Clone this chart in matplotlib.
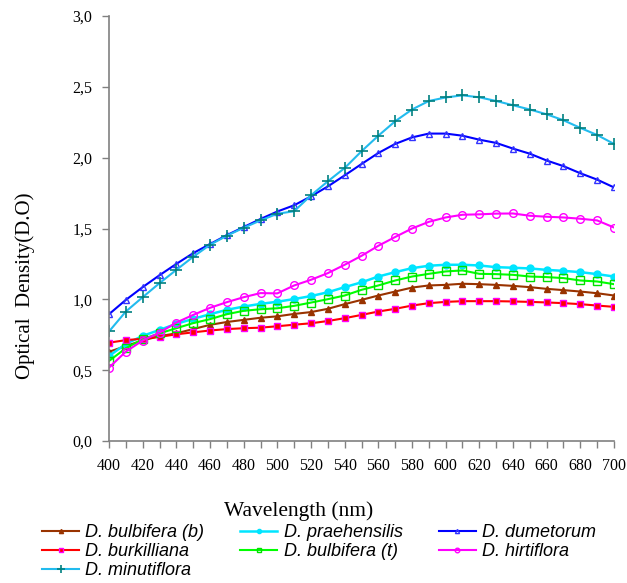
import matplotlib.pyplot as plt
from matplotlib.ticker import MultipleLocator, FuncFormatter

wl = list(range(400, 701, 10))

bulbifera_b = [0.63, 0.67, 0.71, 0.74, 0.76, 0.79, 0.82, 0.84, 0.855, 0.87, 0.88, 0.897, 0.91,
               0.933, 0.966, 0.996, 1.027, 1.055, 1.083, 1.098, 1.102, 1.11, 1.107, 1.102, 1.095,
               1.086, 1.074, 1.065, 1.055, 1.043, 1.027]
praehensilis = [0.60, 0.685, 0.742, 0.784, 0.827, 0.862, 0.895, 0.926, 0.949, 0.968, 0.983, 1.002, 1.023,
                1.05, 1.086, 1.12, 1.161, 1.192, 1.22, 1.237, 1.244, 1.244, 1.239, 1.227, 1.223,
                1.218, 1.208, 1.201, 1.192, 1.178, 1.161]
dumetorum = [0.895, 0.996, 1.086, 1.17, 1.25, 1.326, 1.39, 1.453, 1.51, 1.567, 1.62, 1.664, 1.727,
             1.797, 1.875, 1.955, 2.033, 2.097, 2.143, 2.17, 2.17, 2.155, 2.127, 2.104, 2.064,
             2.028, 1.98, 1.94, 1.89, 1.845, 1.79]
burkilliana = [0.694, 0.712, 0.722, 0.735, 0.753, 0.767, 0.78, 0.79, 0.796, 0.80, 0.81, 0.821, 0.831,
               0.847, 0.867, 0.89, 0.914, 0.933, 0.956, 0.973, 0.982, 0.987, 0.987, 0.987, 0.985,
               0.982, 0.978, 0.973, 0.966, 0.956, 0.947]
bulbifera_t = [0.565, 0.655, 0.719, 0.76, 0.796, 0.832, 0.86, 0.895, 0.919, 0.93, 0.937, 0.954, 0.977,
               1.001, 1.027, 1.067, 1.098, 1.133, 1.161, 1.18, 1.197, 1.204, 1.18, 1.178, 1.173,
               1.161, 1.157, 1.15, 1.133, 1.126, 1.107]
hirtiflora = [0.518, 0.631, 0.709, 0.765, 0.836, 0.89, 0.94, 0.98, 1.015, 1.044, 1.042, 1.098, 1.138,
              1.185, 1.244, 1.307, 1.378, 1.44, 1.5, 1.547, 1.578, 1.597, 1.6, 1.605, 1.606,
              1.59, 1.583, 1.578, 1.569, 1.557, 1.507]
minutiflora = [0.773, 0.914, 1.015, 1.114, 1.208, 1.30, 1.385, 1.449, 1.505, 1.557, 1.604, 1.622, 1.734,
               1.833, 1.927, 2.045, 2.155, 2.257, 2.34, 2.40, 2.425, 2.44, 2.426, 2.40, 2.37,
               2.34, 2.306, 2.264, 2.21, 2.16, 2.097]

W, H = 627, 583
fig = plt.figure(figsize=(W / 100, H / 100), dpi=100)
ax = fig.add_axes([109 / W, 1 - 441 / H, 505 / W, 425 / H])

lines = {}
lines['bb'], = ax.plot(wl, bulbifera_b, color='#993300', lw=1.5, marker='^', ms=5,
                       mfc='#993300', mec='#993300', label='D. bulbifera (b)')
lines['pr'], = ax.plot(wl, praehensilis, color='#00E5FF', lw=1.8, marker='o', ms=5,
                       mfc='#00E5FF', mec='#00E5FF', label='D. praehensilis')
lines['du'], = ax.plot(wl, dumetorum, color='#0000FF', lw=1.5, marker='^', ms=5,
                       mfc='none', mec='#3333FF', label='D. dumetorum')
lines['bk'], = ax.plot(wl, burkilliana, color='#FF0000', lw=1.5, marker='s', ms=5,
                       mfc='#FF0000', mec='#FF00FF', label='D. burkilliana')
lines['bt'], = ax.plot(wl, bulbifera_t, color='#00FF00', lw=1.5, marker='s', ms=5.5,
                       mfc='none', mec='#00E000', label='D. bulbifera (t)')
lines['hi'], = ax.plot(wl, hirtiflora, color='#FF00FF', lw=1.5, marker='o', ms=5.5,
                       mfc='none', mec='#FF00FF', label='D. hirtiflora')
lines['mi'], = ax.plot(wl, minutiflora, color='#22BBEE', lw=1.5, marker='+', ms=9, mew=1.2,
                       mec='#008080', label='D. minutiflora')

ax.set_xlim(400, 700)
ax.set_ylim(0, 3.0)
ax.xaxis.set_major_locator(MultipleLocator(20))
ax.xaxis.set_minor_locator(MultipleLocator(10))
ax.yaxis.set_major_locator(MultipleLocator(0.5))
ax.yaxis.set_major_formatter(FuncFormatter(lambda v, p: f"{v:.1f}".replace('.', ',')))

for s in ['top', 'right']:
    ax.spines[s].set_visible(False)
for s in ['left', 'bottom']:
    ax.spines[s].set_color('#808080')
    ax.spines[s].set_linewidth(1.2)
ax.tick_params(which='both', direction='out', color='#808080', length=5, width=1)
ax.tick_params(axis='x', pad=7)
ax.tick_params(axis='y', pad=7)
for lab in ax.get_xticklabels() + ax.get_yticklabels():
    lab.set_fontfamily('Liberation Serif')
    lab.set_fontsize(11.5)

fig.text(224 / W, 1 - 511 / H, 'Wavelength (nm)', family='Liberation Serif', fontsize=15.5,
         ha='left', va='center')
fig.text(25 / W, 1 - 286 / H, 'Optical  Density(D.O)', family='Liberation Serif', fontsize=15,
         rotation=90, ha='center', va='center')

order = ['bb', 'bk', 'mi', 'pr', 'bt', 'du', 'hi']
leg = fig.legend([lines[k] for k in order], [lines[k].get_label() for k in order],
                 ncol=3, loc='upper left', bbox_to_anchor=(42 / W, 1 - 524 / H),
                 frameon=False, borderpad=0, borderaxespad=0,
                 handlelength=2.05, columnspacing=2.0, labelspacing=0.12,
                 handletextpad=0.35, markerscale=0.6,
                 prop={'family': 'Liberation Sans', 'style': 'italic', 'size': 13})

fig.savefig('out.png', dpi=100)
